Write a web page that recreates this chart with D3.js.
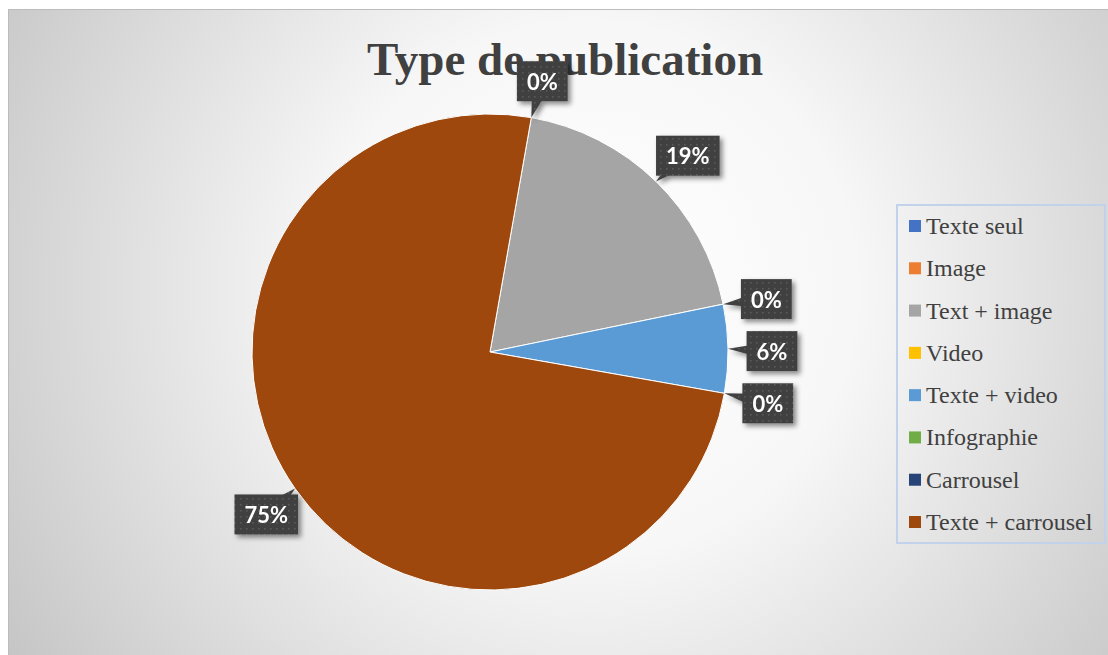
<!DOCTYPE html>
<html>
<head>
<meta charset="utf-8">
<script src="https://cdn.jsdelivr.net/npm/d3@7/dist/d3.min.js"></script>
<style>
  html, body { margin: 0; padding: 0; background: #ffffff; }
  svg { display: block; }
</style>
</head>
<body>
<script>
// Publication types and their share of posts (percent)
const categories = ["Texte seul", "Image", "Text + image", "Video", "Texte + video", "Infographie", "Carrousel", "Texte + carrousel"];
const shares = [0, 0, 19, 0, 6, 0, 0, 75];
const palette = ["#4472C4", "#ED7D31", "#A5A5A5", "#FFC000", "#5B9BD5", "#70AD47", "#264478", "#9E480E"];
const chartTitle = "Type de publication";

const W = 1108, H = 655;
const cx = 490, cy = 352, radius = 238, labelRadius = 278;
const firstSliceAngle = 10 * Math.PI / 180;

const svg = d3.select("body").append("svg").attr("width", W).attr("height", H);
const defs = svg.append("defs");

// Chart area background: radial gradient, light centre fading to grey edges
const bg = defs.append("radialGradient").attr("id", "bgGrad")
  .attr("gradientUnits", "userSpaceOnUse")
  .attr("cx", 590).attr("cy", 290).attr("r", 700);
bg.append("stop").attr("offset", "0%").attr("stop-color", "#ffffff");
bg.append("stop").attr("offset", "38%").attr("stop-color", "#f7f7f7");
bg.append("stop").attr("offset", "100%").attr("stop-color", "#c4c4c4");

// Dotted dark fill for the data callouts
const pat = defs.append("pattern").attr("id", "dots")
  .attr("patternUnits", "userSpaceOnUse").attr("width", 6).attr("height", 6);
pat.append("rect").attr("width", 6).attr("height", 6).attr("fill", "#404040");
pat.append("rect").attr("x", 2).attr("y", 2).attr("width", 1.6).attr("height", 1.6).attr("fill", "#5a5a5a");

const shadow = defs.append("filter").attr("id", "shadow")
  .attr("x", "-30%").attr("y", "-30%").attr("width", "170%").attr("height", "170%");
shadow.append("feDropShadow").attr("dx", 3).attr("dy", 3).attr("stdDeviation", 2.5)
  .attr("flood-color", "#000").attr("flood-opacity", 0.45);

svg.append("rect").attr("x", 8.5).attr("y", 9.5).attr("width", W).attr("height", H)
  .attr("fill", "url(#bgGrad)").attr("stroke", "#bcbcbc").attr("stroke-width", 1);

// Title
svg.append("text").attr("x", 565).attr("y", 75)
  .attr("text-anchor", "middle")
  .style("font-family", "'Liberation Serif', 'Times New Roman', serif")
  .style("font-weight", "bold").style("font-size", "47px")
  .attr("fill", "#404040").text(chartTitle);

// Pie
const rows = categories.map((c, i) => ({ name: c, value: shares[i], color: palette[i] }));
const pie = d3.pie().sort(null).value(d => d.value)
  .startAngle(firstSliceAngle).endAngle(firstSliceAngle + 2 * Math.PI);
const arcs = pie(rows);
const arc = d3.arc().innerRadius(0).outerRadius(radius);

const g = svg.append("g").attr("transform", `translate(${cx},${cy})`);
g.selectAll("path.slice").data(arcs.filter(d => d.value > 0)).join("path")
  .attr("class", "slice")
  .attr("d", arc)
  .attr("fill", d => d.data.color)
  .attr("stroke", "#ffffff").attr("stroke-width", 1);

// Data callouts (empty slices sharing the same angle share one callout)
const fmt = d3.format(".0%");
const callouts = Array.from(
  d3.group(arcs, d => ((d.startAngle + d.endAngle) / 2).toFixed(4) + "|" + fmt(d.value / 100)).values(),
  list => list[0]
);
const labelLayer = g.append("g");
callouts.forEach(d => {
  const mid = (d.startAngle + d.endAngle) / 2;
  const ax = radius * Math.sin(mid), ay = -radius * Math.cos(mid);
  const bx = labelRadius * Math.sin(mid) + 4, by = -labelRadius * Math.cos(mid) + 3;
  const cg = labelLayer.append("g").attr("filter", "url(#shadow)");
  const txt = fmt(d.value / 100);
  const t = cg.append("text")
    .attr("x", bx).attr("y", by)
    .attr("text-anchor", "middle").attr("dominant-baseline", "central")
    .style("font-family", "Lato, 'Open Sans', sans-serif")
    .style("font-weight", "bold").style("font-size", "22px")
    .attr("fill", "#ffffff").text(txt);
  const tw = t.node().getComputedTextLength();
  const bw = tw + 20, bh = 40;
  // tail towards the slice edge
  const dx = ax - bx, dy = ay - by, len = Math.hypot(dx, dy);
  const px = -dy / len * 6, py = dx / len * 6;
  const ox = dx / len * (bh / 2 - 4), oy = dy / len * (bh / 2 - 4);
  cg.insert("path", "text")
    .attr("d", `M${bx + ox + px},${by + oy + py}L${ax},${ay}L${bx + ox - px},${by + oy - py}Z`)
    .attr("fill", "url(#dots)");
  cg.insert("rect", "text")
    .attr("x", bx - bw / 2).attr("y", by - bh / 2)
    .attr("width", bw).attr("height", bh)
    .attr("fill", "url(#dots)");
});

// Legend
const lg = svg.append("g");
lg.append("rect").attr("x", 897).attr("y", 205).attr("width", 208).attr("height", 338)
  .attr("fill", "none").attr("stroke", "#c2d1ec").attr("stroke-width", 2);
const rowY = d3.scalePoint().domain(categories).range([226, 522]);
const items = lg.selectAll("g.item").data(rows).join("g").attr("class", "item")
  .attr("transform", d => `translate(0,${rowY(d.name)})`);
items.append("rect").attr("x", 909).attr("y", -6).attr("width", 12).attr("height", 12)
  .attr("fill", d => d.color);
items.append("text").attr("x", 926).attr("y", 0).attr("dominant-baseline", "central")
  .style("font-family", "'Liberation Serif', 'Times New Roman', serif")
  .style("font-size", "24px").attr("fill", "#404040")
  .text(d => d.name);
</script>
</body>
</html>
